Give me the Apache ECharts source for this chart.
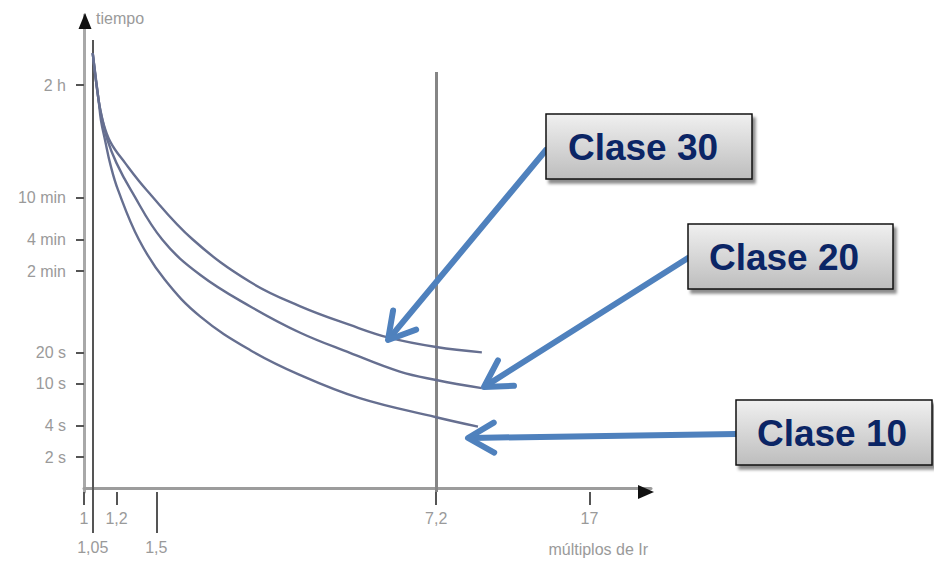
<!DOCTYPE html>
<html><head><meta charset="utf-8">
<script src="https://cdn.jsdelivr.net/npm/echarts@6.0.0/dist/echarts.min.js"></script>
<style>html,body{margin:0;padding:0;background:#fff}#c{width:934px;height:568px}</style>
</head><body><div id="c"></div>
<script>
// ---------- data ----------
const multiples10 = [1.05, 1.085, 1.10, 1.125, 1.16, 1.21, 1.36, 1.57, 1.92, 2.54, 3.35, 4.69, 7.2, 9.1];
const seconds10   = [14500, 5200, 3300, 2150, 1240, 715, 240, 100, 44, 21, 12.2, 7.3, 4.8, 3.9];
const multiples20 = [1.05, 1.085, 1.11, 1.14, 1.20, 1.30, 1.55, 1.92, 2.54, 3.35, 4.44, 5.87, 7.2, 9.3];
const seconds20   = [14500, 5200, 3300, 2150, 1290, 715, 240, 110, 55, 31, 19.8, 13.1, 10.9, 9.1];
const multiples30 = [1.05, 1.085, 1.11, 1.16, 1.26, 1.42, 1.84, 2.54, 3.35, 4.44, 5.55, 7.2, 9.3];
const seconds30   = [14500, 5200, 3300, 2050, 1290, 715, 240, 94, 55.5, 36.6, 27.5, 22.5, 20];
const classNames  = ['Clase 10', 'Clase 20', 'Clase 30'];

const yTickValues = [2, 4, 10, 20, 120, 240, 600, 7200];
const yTickLabels = ['2 s', '4 s', '10 s', '20 s', '2 min', '4 min', '10 min', '2 h'];
const xTickValuesRow1 = [1, 1.2, 7.2, 17];
const xTickLabelsRow1 = ['1', '1,2', '7,2', '17'];
const xTickValuesRow2 = [1.05, 1.5];
const xTickLabelsRow2 = ['1,05', '1,5'];
const refLineX   = [1.05, 7.2];
const refLineTop = [19400, 9600];
const xName = 'múltiplos de Ir';
const yName = 'tiempo';

// ---------- chart ----------
const X_MIN = 1, X_MAX = 24, Y_MIN = 0.9256, Y_MAX = 33630;
const L = Math.log10;
const font = 'Liberation Sans';
const grey = '#9a9a9a';

function fmt(vals, labels) {
  return v => { const i = vals.findIndex(t => Math.abs(L(t) - v) < 1e-6); return i >= 0 ? labels[i] : ''; };
}
function zip(a, b) { return a.map((v, i) => [v, b[i]]); }

const chart = echarts.init(document.getElementById('c'), null, {renderer: 'svg'});

function arrow(x0, y0, x1, y1) {
  const ang = Math.atan2(y0 - y1, x0 - x1), len = 30, spread = Math.PI / 6;
  const a = [x1 + len * Math.cos(ang + spread), y1 + len * Math.sin(ang + spread)];
  const b = [x1 + len * Math.cos(ang - spread), y1 + len * Math.sin(ang - spread)];
  const st = {stroke: '#4f81bd', lineWidth: 6, lineCap: 'round', lineJoin: 'round', fill: null};
  return [
    {type: 'line', shape: {x1: x0, y1: y0, x2: x1 + 4 * Math.cos(ang), y2: y1 + 4 * Math.sin(ang)}, style: st, z: 50},
    {type: 'polyline', shape: {points: [a, [x1, y1], b]}, style: st, z: 50}
  ];
}
function box(x, y, w, h, text, tx, ty) {
  return [
    {type: 'rect', shape: {x, y, width: w, height: h}, z: 60,
     style: {fill: new echarts.graphic.LinearGradient(0, 0, 0, 1, [{offset: 0, color: '#f0f0f0'}, {offset: 1, color: '#bdbdbd'}]),
             stroke: '#111', lineWidth: 1.5, shadowBlur: 3, shadowOffsetX: 3, shadowOffsetY: 4, shadowColor: 'rgba(0,0,0,0.45)'}},
    {type: 'text', z: 61, style: {text, x: tx, y: ty, align: 'center', verticalAlign: 'middle',
      font: 'bold 37px "Liberation Sans", Arial, sans-serif', fill: '#0b2565'}}
  ];
}

const lineColor = '#666f90';
const seriesData = [zip(multiples10, seconds10), zip(multiples20, seconds20), zip(multiples30, seconds30)];

const option = {
  animation: false,
  backgroundColor: '#fff',
  grid: {left: 84, right: 283, top: 15, bottom: 76, containLabel: false},
  xAxis: [
    {type: 'log', min: X_MIN, max: X_MAX, position: 'bottom',
     axisLine: {lineStyle: {color: '#9c9c9c', width: 3}}, axisTick: {show: false}, axisLabel: {show: false}, splitLine: {show: false},
     name: xName, nameLocation: 'end', nameGap: -3,
     nameTextStyle: {align: 'right', verticalAlign: 'top', padding: [53, 0, 0, 0], color: grey, fontSize: 16, fontFamily: font}},
    {type: 'value', min: L(X_MIN), max: L(X_MAX), position: 'bottom', axisLine: {show: false}, splitLine: {show: false},
     axisTick: {show: true, customValues: xTickValuesRow1.map(L), length: 13, lineStyle: {color: '#555', width: 2}},
     axisLabel: {customValues: xTickValuesRow1.map(L), margin: 18, formatter: fmt(xTickValuesRow1, xTickLabelsRow1), color: grey, fontSize: 16, fontFamily: font}},
    {type: 'value', min: L(X_MIN), max: L(X_MAX), position: 'bottom', axisLine: {show: false}, splitLine: {show: false},
     axisTick: {show: true, customValues: xTickValuesRow2.map(L), length: 41, lineStyle: {color: '#555', width: 2}},
     axisLabel: {customValues: xTickValuesRow2.map(L), margin: 47, formatter: fmt(xTickValuesRow2, xTickLabelsRow2), color: grey, fontSize: 16, fontFamily: font}}
  ],
  yAxis: [
    {type: 'log', min: Y_MIN, max: Y_MAX, position: 'left',
     axisLine: {lineStyle: {color: '#a8a8a8', width: 3}}, axisTick: {show: false}, axisLabel: {show: false}, splitLine: {show: false},
     name: yName, nameLocation: 'end', nameGap: -3,
     nameTextStyle: {align: 'left', verticalAlign: 'middle', padding: [0, 0, 0, 12], color: grey, fontSize: 16, fontFamily: font}},
    {type: 'value', min: L(Y_MIN), max: L(Y_MAX), position: 'left', axisLine: {show: false}, splitLine: {show: false},
     axisTick: {show: true, customValues: yTickValues.map(L), length: 8, lineStyle: {color: '#555', width: 2}},
     axisLabel: {customValues: yTickValues.map(L), margin: 18, formatter: fmt(yTickValues, yTickLabels), color: grey, fontSize: 16, fontFamily: font}}
  ],
  series: seriesData.map((d, i) => ({
    name: classNames[i], type: 'line', xAxisIndex: 0, yAxisIndex: 0, data: d,
    smooth: 0.4, showSymbol: false, silent: true, z: 5,
    lineStyle: {color: lineColor, width: 2.4},
    markLine: i === 0 ? {
      silent: true, symbol: 'none', label: {show: false}, z: 3,
      data: refLineX.map((x, k) => [
        {coord: [x, refLineTop[k]], lineStyle: {color: k === 0 ? '#555' : '#858585', width: k === 0 ? 2 : 3, type: 'solid'}},
        {coord: [x, Y_MIN]}
      ])
    } : undefined
  })),
  graphic: [
    {type: 'polygon', shape: {points: [[85, 13], [78.5, 29], [91.5, 29]]}, style: {fill: '#111'}, z: 40},
    {type: 'polygon', shape: {points: [[654, 492], [638, 485], [638, 499]]}, style: {fill: '#111'}, z: 40},
    ...arrow(546, 150, 388, 340),
    ...arrow(688, 258, 484, 387),
    ...arrow(736, 434, 468, 438),
    ...box(546, 114, 206, 65, classNames[2], 643, 147),
    ...box(688, 224, 205, 65, classNames[1], 784, 257),
    ...box(736, 400, 196, 65, classNames[0], 832, 433)
  ]
};
chart.setOption(option);
</script>
</body></html>
